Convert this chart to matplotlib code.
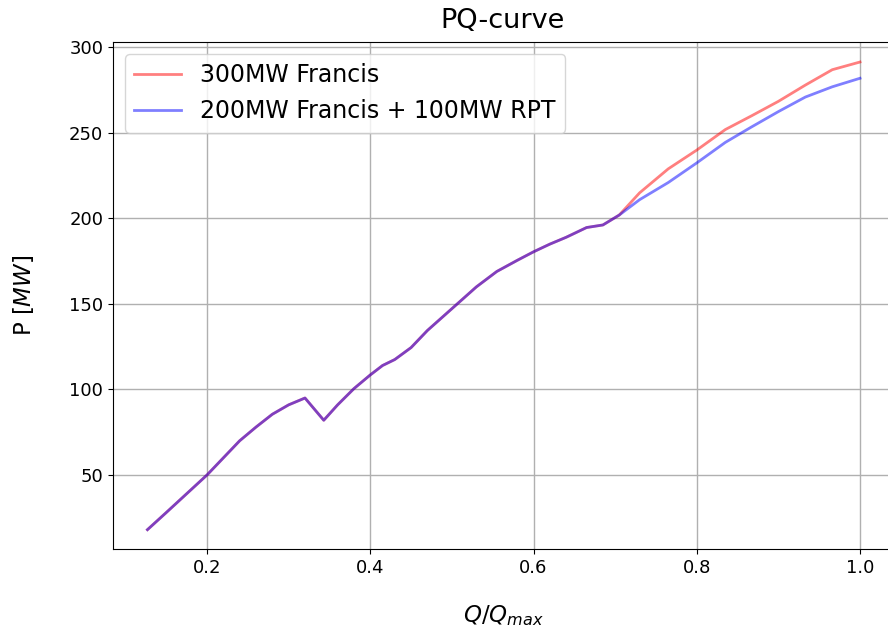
import numpy as np
import matplotlib
matplotlib.use("Agg")
from matplotlib import pyplot as plt

# flow ratio Q/Qmax
q_ratio = [0.127, 0.15, 0.175, 0.2, 0.22, 0.24, 0.26, 0.28, 0.30, 0.32, 0.343,
           0.36, 0.38, 0.40, 0.415, 0.43, 0.45, 0.47, 0.49, 0.51, 0.53, 0.555,
           0.58, 0.60, 0.62, 0.64, 0.665, 0.685, 0.705, 0.73, 0.765, 0.80,
           0.835, 0.867, 0.90, 0.933, 0.966, 1.0]

# power [MW] - 300MW Francis
p_francis = [18, 28, 39, 50, 60, 70, 78, 85.5, 91, 95, 82,
             91, 100.5, 108.5, 114, 117.5, 124.5, 134.5, 143, 151.5, 160, 169,
             175.5, 180.5, 185, 189, 194.7, 196.2, 202, 215, 229, 240,
             252, 260, 268.5, 278, 287, 291.5]

# power [MW] - 200MW Francis + 100MW RPT
p_hybrid = [18, 28, 39, 50, 60, 70, 78, 85.5, 91, 95, 82,
            91, 100.5, 108.5, 114, 117.5, 124.5, 134.5, 143, 151.5, 160, 169,
            175.5, 180.5, 185, 189, 194.7, 196.2, 202, 211, 221, 232.5,
            244.5, 253.5, 262.5, 271, 277, 282]

fig = plt.figure(figsize=(8.88, 6.29), dpi=100)
# axes run just past the right edge of the picture (cropped like the original)
ax = fig.add_axes([113 / 888, 80 / 629, 780 / 888, 507 / 629])

ax.plot(q_ratio, p_francis, color="r", alpha=0.5, lw=2, label="300MW Francis")
ax.plot(q_ratio, p_hybrid, color="b", alpha=0.5, lw=2, label="200MW Francis + 100MW RPT")

ax.set_xlim(0.0848, 0.0848 + 780 / 816.25)
ax.set_ylim(6.7, 303.2)
ax.set_title("PQ-curve", fontsize=19.5, pad=10)
ax.set_xlabel("$Q/Q_{max}$", fontsize=16.5, labelpad=19)
ax.set_ylabel("P [$MW$]", fontsize=16.5, labelpad=24)
ax.tick_params(labelsize=13)
ax.grid(True, lw=1)
ax.legend(fontsize=17, loc="upper left")

fig.savefig("out.png", dpi=100)
